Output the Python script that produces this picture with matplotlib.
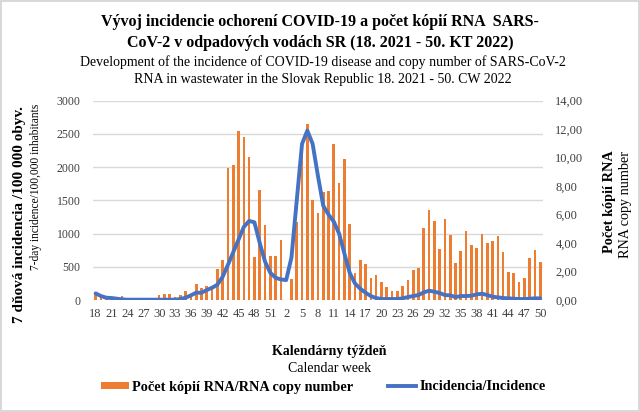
import matplotlib
matplotlib.use('Agg')
import matplotlib.pyplot as plt
import numpy as np
from matplotlib.patches import Patch
from matplotlib.lines import Line2D

plt.rcParams['font.family'] = ['Liberation Serif', 'DejaVu Serif']

# calendar weeks 18/2021 .. 50/2022
weeks = list(range(18, 53)) + list(range(1, 51))

# RNA copy number (right axis)
rna = [0.51, 0.23, 0.14, 0.09, 0.07, 0.28, 0.05, 0.05, 0.16, 0.07,
       0.16, 0.05, 0.33, 0.40, 0.40, 0.19, 0.33, 0.63, 0.19, 1.12,
       0.82, 1.00, 0.82, 2.15, 2.80, 9.26, 9.45, 11.90, 11.43, 10.08,
       3.03, 7.75, 5.30, 3.10, 3.10,
       4.20, 0.00, 1.47, 5.46, 11.01, 12.34, 7.02, 6.11, 7.56, 7.68,
       10.94, 8.25, 9.93, 5.32, 1.89, 2.80, 2.52, 1.56, 1.73, 1.26,
       0.89, 0.64, 0.65, 0.96, 1.38, 2.12, 2.24, 5.09, 6.35, 5.58,
       3.57, 5.67, 4.55, 2.61, 3.43, 4.83, 3.85, 3.66, 4.67, 4.01,
       4.15, 4.53, 3.38, 1.98, 1.87, 1.28, 1.52, 2.92, 3.50, 2.68]

# 7-day incidence per 100 000 inhabitants (left axis)
incidence = [100, 60, 35, 30, 20, 10, 5, 5, 5, 5,
             5, 5, 5, 5, 5, 5, 15, 35, 70, 110,
             110, 150, 185, 230, 350, 530, 720, 910, 1100, 1190,
             1170, 860, 580, 410, 335,
             310, 300, 640, 1500, 2350, 2550, 2350, 1870, 1420, 1285,
             1180, 1000, 700, 410, 250, 170, 110, 60, 30, 15,
             15, 15, 15, 25, 45, 60, 75, 115, 140, 125,
             105, 75, 70, 45, 60, 60, 65, 85, 95, 75,
             50, 40, 30, 25, 20, 15, 15, 20, 25, 25]

x = np.arange(len(weeks))

fig = plt.figure(figsize=(6.4, 4.12), dpi=100)
fig.patch.set_edgecolor('#D9D9D9')
fig.patch.set_linewidth(1.5)
ax = fig.add_axes([0.1453, 0.2718, 0.7029, 0.4838])
ax2 = ax.twinx()

ax.set_ylim(0, 3000)
ax.set_yticks(range(0, 3001, 500))
ax.grid(axis='y', color='#D9D9D9', linewidth=1)
ax.set_axisbelow(True)

ax2.bar(x, rna, width=0.5, color='#ED7D31', zorder=1)
ax2.plot(x, incidence, color='#4472C4', linewidth=2.8, solid_joinstyle='round',
         solid_capstyle='round', transform=ax.transData, zorder=3)
ax2.set_ylim(0, 14)
ax2.set_yticks(range(0, 15, 2))
ax2.set_yticklabels([f'{v:.2f}'.replace('.', ',') for v in range(0, 15, 2)])

ax.set_xlim(-0.5, len(weeks) - 0.5)
ax.set_xticks(x[::3])
ax.set_xticklabels([str(w) for w in weeks[::3]])

for a in (ax, ax2):
    for s in a.spines.values():
        s.set_visible(False)
    a.tick_params(length=0, colors='#404040', labelsize=9)
ax.tick_params(axis='y', labelsize=8.5, pad=9)
ax.tick_params(axis='x', pad=6)
ax2.tick_params(axis='y', pad=9)

fig.text(0.5, 1 - 22 / 412, 'Vývoj incidencie ochorení COVID-19 a počet kópií RNA  SARS-',
         ha='center', va='center', fontsize=11.5, fontweight='bold')
fig.text(0.5, 1 - 43 / 412, 'CoV-2 v odpadových vodách SR (18. 2021 - 50. KT 2022)',
         ha='center', va='center', fontsize=11.5, fontweight='bold')
fig.text(0.505, 1 - 62 / 412, 'Development of the incidence of COVID-19 disease and copy number of SARS-CoV-2',
         ha='center', va='center', fontsize=10)
fig.text(0.505, 1 - 80 / 412, 'RNA in wastewater in the Slovak Republic 18. 2021 - 50. CW 2022',
         ha='center', va='center', fontsize=10)

fig.text(20 / 640, 1 - 215 / 412, '7 dňová incidencia /100 000 obyv.', rotation=90,
         ha='center', va='center', fontsize=11, fontweight='bold')
fig.text(36 / 640, 1 - 187 / 412, '7-day incidence/100,000 inhabitants', rotation=90,
         ha='center', va='center', fontsize=8.3)
fig.text(610 / 640, 1 - 202 / 412, 'Počet kópií RNA', rotation=90,
         ha='center', va='center', fontsize=10.3, fontweight='bold')
fig.text(626 / 640, 1 - 205 / 412, 'RNA copy number', rotation=90,
         ha='center', va='center', fontsize=10.2)

fig.text(0.515, 1 - 352 / 412, 'Kalendárny týždeň', ha='center', va='center',
         fontsize=10, fontweight='bold')
fig.text(0.515, 1 - 369 / 412, 'Calendar week', ha='center', va='center', fontsize=10)

handles = [Patch(facecolor='#ED7D31', edgecolor='none'),
           Line2D([], [], color='#4472C4', linewidth=2.8)]
fig.legend(handles, ['Počet kópií RNA/RNA copy number', 'Incidencia/Incidence'],
           loc='center', bbox_to_anchor=(0.505, 1 - 387 / 412), ncol=2, frameon=False,
           prop={'weight': 'bold', 'size': 10.3}, handlelength=2.0, handleheight=0.45,
           handletextpad=0.2, columnspacing=2.4)

fig.savefig('out.png', dpi=100)
